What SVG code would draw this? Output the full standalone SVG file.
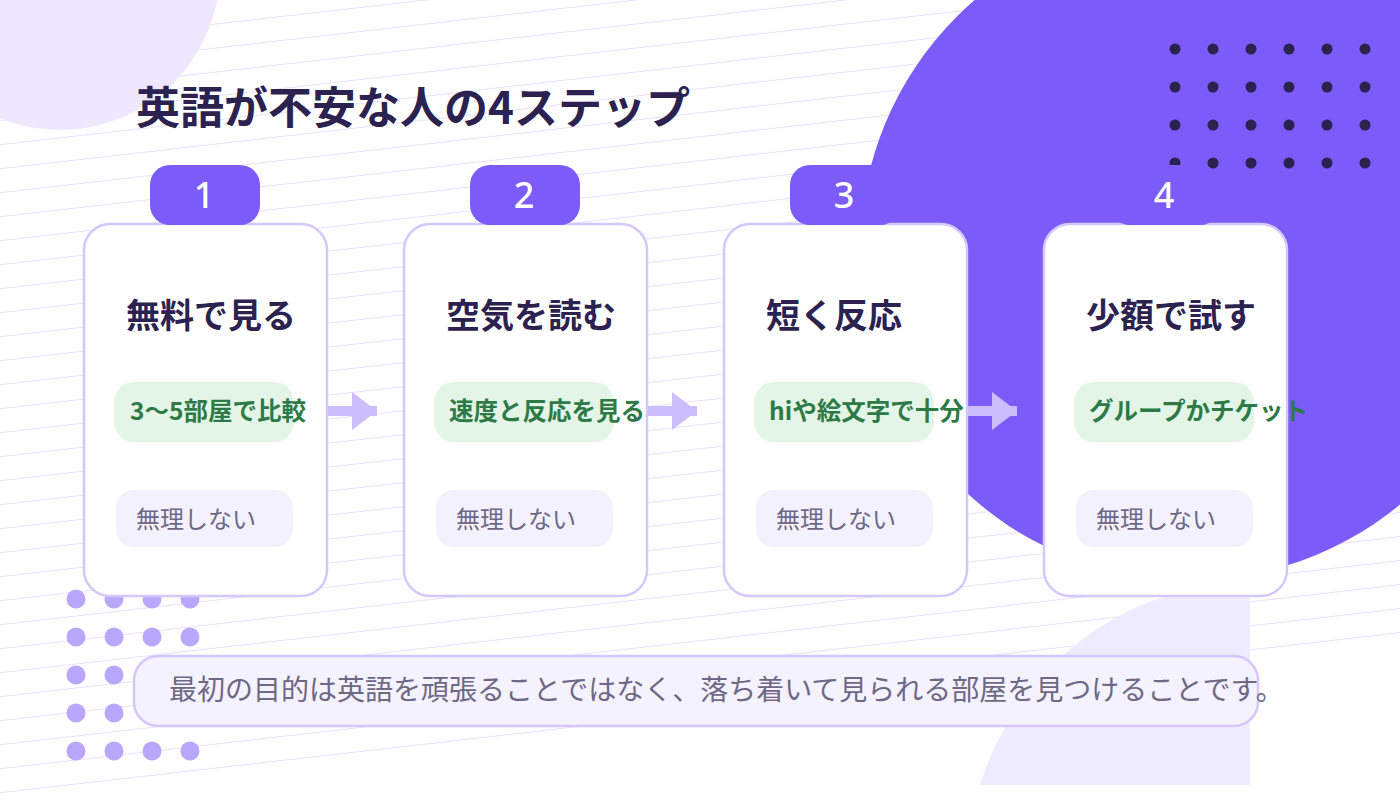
<svg xmlns="http://www.w3.org/2000/svg" width="1400" height="800" viewBox="0 0 1400 800">
  <defs>
    <style>
      .bgline { fill: none; stroke: #e7e1fd; stroke-width: 1; }
      .card { fill: #ffffff; stroke: #d3c8fc; stroke-width: 2.5; }
      .badge { fill: #7b5cf9; }
      .num { font-family: "Noto Sans", "Liberation Sans", sans-serif; font-size: 36px; font-weight: 500; fill: #ffffff; text-anchor: middle; }
      .title { font-family: "Noto Sans CJK JP", "Noto Sans", sans-serif; font-size: 34px; font-weight: 700; fill: #2c2250; }
      .gpill { fill: #e2f5e7; }
      .gtext { font-family: "Noto Sans CJK JP", "Noto Sans", sans-serif; font-size: 24.5px; font-weight: 700; fill: #2e7a46; }
      .ppill { fill: #f4f1fe; }
      .ptext { font-family: "Noto Sans CJK JP", "Noto Sans", sans-serif; font-size: 24px; font-weight: 400; fill: #6e6884; }
      .ddot { fill: #2c2250; }
      .ldot { fill: #b8a7fa; }
      .conn { stroke: #ccbdfd; stroke-width: 10; fill: none; marker-end: url(#head); }
    </style>
    <marker id="head" viewBox="0 0 25 38" refX="25" refY="19" markerWidth="25" markerHeight="38" markerUnits="userSpaceOnUse" orient="auto">
      <path d="M0,0 L25,19 L0,38 Z" fill="#ccbdfd"/>
    </marker>
  </defs>

  <rect x="0" y="0" width="1400" height="800" fill="#ffffff"/>

  <path class="bgline" d="M0,0.7 L1400,-159.3 M0,24.7 L1400,-135.3 M0,48.7 L1400,-111.3 M0,72.7 L1400,-87.3 M0,96.7 L1400,-63.3 M0,120.7 L1400,-39.3 M0,144.7 L1400,-15.3 M0,168.7 L1400,8.7 M0,192.7 L1400,32.7 M0,216.7 L1400,56.7 M0,240.7 L1400,80.7 M0,264.7 L1400,104.7 M0,288.7 L1400,128.7 M0,312.7 L1400,152.7 M0,336.7 L1400,176.7 M0,360.7 L1400,200.7 M0,384.7 L1400,224.7 M0,408.7 L1400,248.7 M0,432.7 L1400,272.7 M0,456.7 L1400,296.7 M0,480.7 L1400,320.7 M0,504.7 L1400,344.7 M0,528.7 L1400,368.7 M0,552.7 L1400,392.7 M0,576.7 L1400,416.7 M0,600.7 L1400,440.7 M0,624.7 L1400,464.7 M0,648.7 L1400,488.7 M0,672.7 L1400,512.7 M0,696.7 L1400,536.7 M0,720.7 L1400,560.7 M0,744.7 L1400,584.7 M0,768.7 L1400,608.7 M0,792.7 L1400,632.7"/>

  <circle cx="60" cy="-30" r="160" fill="#ede8fd"/>
  <circle cx="1190" cy="250" r="330" fill="#7b5cf9"/>
  <path d="M980,785 A288,288 0 0 1 1250,582 L1250,785 Z" fill="#efebfe"/>

  <g id="dots-top">
    <circle class="ddot" cx="1175" cy="49" r="5.5"/><circle class="ddot" cx="1213" cy="49" r="5.5"/><circle class="ddot" cx="1251" cy="49" r="5.5"/><circle class="ddot" cx="1289" cy="49" r="5.5"/><circle class="ddot" cx="1327" cy="49" r="5.5"/><circle class="ddot" cx="1365" cy="49" r="5.5"/>
    <circle class="ddot" cx="1175" cy="87" r="5.5"/><circle class="ddot" cx="1213" cy="87" r="5.5"/><circle class="ddot" cx="1251" cy="87" r="5.5"/><circle class="ddot" cx="1289" cy="87" r="5.5"/><circle class="ddot" cx="1327" cy="87" r="5.5"/><circle class="ddot" cx="1365" cy="87" r="5.5"/>
    <circle class="ddot" cx="1175" cy="125" r="5.5"/><circle class="ddot" cx="1213" cy="125" r="5.5"/><circle class="ddot" cx="1251" cy="125" r="5.5"/><circle class="ddot" cx="1289" cy="125" r="5.5"/><circle class="ddot" cx="1327" cy="125" r="5.5"/><circle class="ddot" cx="1365" cy="125" r="5.5"/>
    <circle class="ddot" cx="1175" cy="163" r="5.5"/><circle class="ddot" cx="1213" cy="163" r="5.5"/><circle class="ddot" cx="1251" cy="163" r="5.5"/><circle class="ddot" cx="1289" cy="163" r="5.5"/><circle class="ddot" cx="1327" cy="163" r="5.5"/><circle class="ddot" cx="1365" cy="163" r="5.5"/>
  </g>

  <g id="dots-bottom">
    <circle class="ldot" cx="76" cy="599" r="9.5"/><circle class="ldot" cx="114" cy="599" r="9.5"/><circle class="ldot" cx="152" cy="599" r="9.5"/><circle class="ldot" cx="190" cy="599" r="9.5"/>
    <circle class="ldot" cx="76" cy="637" r="9.5"/><circle class="ldot" cx="114" cy="637" r="9.5"/><circle class="ldot" cx="152" cy="637" r="9.5"/><circle class="ldot" cx="190" cy="637" r="9.5"/>
    <circle class="ldot" cx="76" cy="675" r="9.5"/><circle class="ldot" cx="114" cy="675" r="9.5"/><circle class="ldot" cx="152" cy="675" r="9.5"/><circle class="ldot" cx="190" cy="675" r="9.5"/>
    <circle class="ldot" cx="76" cy="713" r="9.5"/><circle class="ldot" cx="114" cy="713" r="9.5"/><circle class="ldot" cx="152" cy="713" r="9.5"/><circle class="ldot" cx="190" cy="713" r="9.5"/>
    <circle class="ldot" cx="76" cy="751" r="9.5"/><circle class="ldot" cx="114" cy="751" r="9.5"/><circle class="ldot" cx="152" cy="751" r="9.5"/><circle class="ldot" cx="190" cy="751" r="9.5"/>
  </g>

  <text id="heading" x="136" y="124" font-family="Noto Sans CJK JP, Noto Sans, sans-serif" font-size="44" font-weight="700" fill="#2c2250">英語が不安な人の4ステップ</text>

  <g id="step1">
    <rect class="card" x="84" y="224" width="243" height="372" rx="26"/>
    <rect class="badge" x="150" y="165" width="110" height="60" rx="20"/>
    <text class="num" x="204" y="208">1</text>
    <text class="title" x="126" y="328">無料で見る</text>
    <rect class="gpill" x="114" y="382" width="180" height="60" rx="20"/>
    <text class="gtext" x="130" y="420">3〜5部屋で比較</text>
    <rect class="ppill" x="116" y="490" width="177" height="57" rx="18"/>
    <text class="ptext" x="136" y="528">無理しない</text>
  </g>

  <g id="step2">
    <rect class="card" x="404" y="224" width="243" height="372" rx="26"/>
    <rect class="badge" x="470" y="165" width="110" height="60" rx="20"/>
    <text class="num" x="524" y="208">2</text>
    <text class="title" x="446" y="328">空気を読む</text>
    <rect class="gpill" x="434" y="382" width="180" height="60" rx="20"/>
    <text class="gtext" x="449" y="420">速度と反応を見る</text>
    <rect class="ppill" x="436" y="490" width="177" height="57" rx="18"/>
    <text class="ptext" x="456" y="528">無理しない</text>
  </g>

  <g id="step3">
    <rect class="card" x="724" y="224" width="243" height="372" rx="26"/>
    <rect class="badge" x="790" y="165" width="110" height="60" rx="20"/>
    <text class="num" x="844" y="208">3</text>
    <text class="title" x="766" y="328">短く反応</text>
    <rect class="gpill" x="754" y="382" width="180" height="60" rx="20"/>
    <text class="gtext" x="769" y="420">hiや絵文字で十分</text>
    <rect class="ppill" x="756" y="490" width="177" height="57" rx="18"/>
    <text class="ptext" x="776" y="528">無理しない</text>
  </g>

  <g id="step4">
    <rect class="card" x="1044" y="224" width="243" height="372" rx="26"/>
    <rect class="badge" x="1110" y="165" width="110" height="60" rx="20"/>
    <text class="num" x="1164" y="208">4</text>
    <text class="title" x="1086" y="328">少額で試す</text>
    <rect class="gpill" x="1074" y="382" width="180" height="60" rx="20"/>
    <text class="gtext" x="1089" y="420">グループかチケット</text>
    <rect class="ppill" x="1076" y="490" width="177" height="57" rx="18"/>
    <text class="ptext" x="1096" y="528">無理しない</text>
  </g>

  <g id="connectors">
    <line class="conn" x1="328" y1="411" x2="377" y2="411"/>
    <line class="conn" x1="648" y1="411" x2="697" y2="411"/>
    <line class="conn" x1="968" y1="411" x2="1017" y2="411"/>
  </g>

  <g id="note">
    <rect x="134" y="656" width="1124" height="70" rx="24" fill="#f5f2ff" stroke="#d3c8fc" stroke-width="2.5"/>
    <text x="169" y="700" font-family="Noto Sans CJK JP, Noto Sans, sans-serif" font-size="28" font-weight="400" fill="#6e6884">最初の目的は英語を頑張ることではなく、落ち着いて見られる部屋を見つけることです。</text>
  </g>
</svg>
